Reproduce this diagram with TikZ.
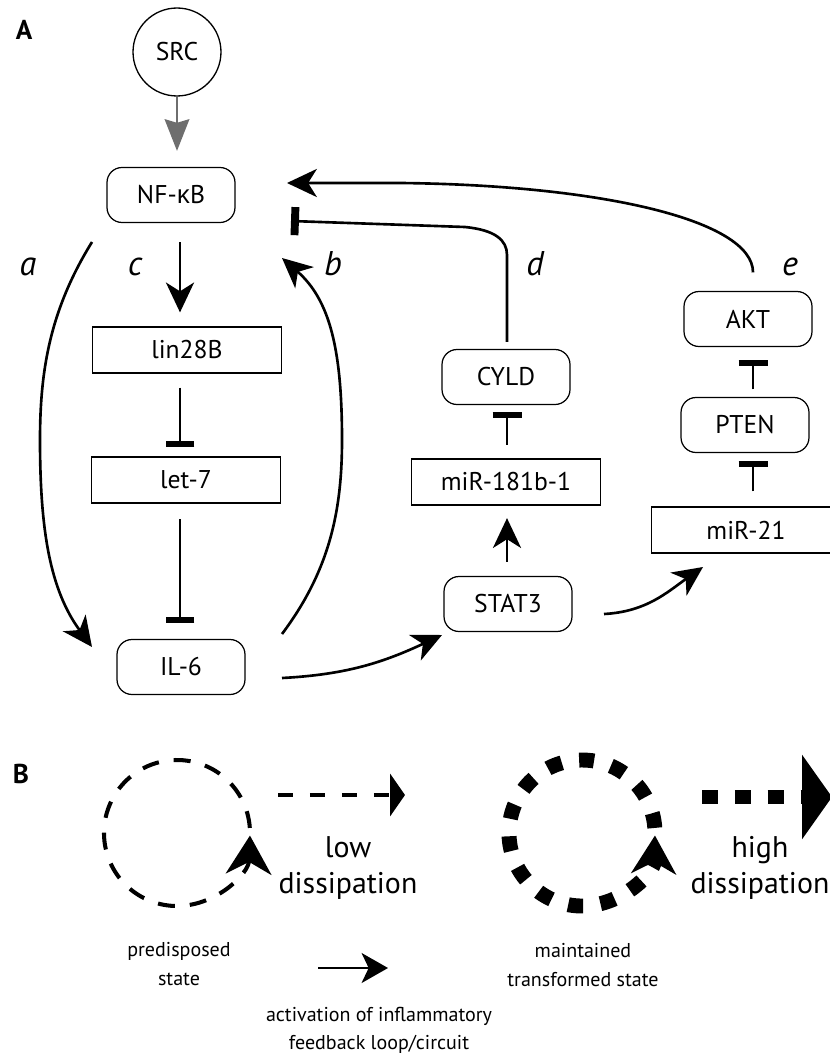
\documentclass[tikz,border=0pt]{standalone}
\usepackage{fontspec}
\setmainfont{PT Sans}
\newfontfamily\grk{Open Sans}
\usetikzlibrary{arrows.meta}
\definecolor{srcgray}{RGB}{110,110,110}

\begin{document}
\begin{tikzpicture}[x=0.02cm,y=0.02cm,
    gene/.style={draw,line width=.7pt,rounded corners=.3cm,minimum width=2.56cm,minimum height=1.1cm,inner sep=0pt,font=\fontsize{14.6}{17}\selectfont},
    rna/.style={draw,line width=.7pt,minimum width=3.78cm,minimum height=.92cm,inner sep=0pt,font=\fontsize{14.6}{17}\selectfont},
    act/.style={line width=1.5pt,-{Stealth[length=17pt,width=16pt,inset=5pt]}},
    inh/.style={line width=1.5pt,-{Bar[width=16.5pt,line width'=3.6pt]}},
    lbl/.style={anchor=base,font=\fontsize{19.5}{22}\selectfont\itshape},
    note/.style={align=center,font=\fontsize{11.4}{16}\selectfont},
    diss/.style={align=center,font=\fontsize{17}{20.5}\selectfont},
    panel/.style={font=\fontsize{15.5}{18}\selectfont\bfseries}]
  \useasboundingbox (0,0) rectangle (829,-1054);

  % panel A
  \node[panel] (pA) at (24,-30) {A};
  \node[draw,circle,line width=.75pt,minimum size=1.76cm,inner sep=0pt,font=\fontsize{14.6}{17}\selectfont] (src) at (177,-52) {SRC};
  \node[gene] (nfkb) at (171,-195) {NF-{\grk κ}B};
  \node[rna] (lin) at (187,-350) {lin28B};
  \node[rna] (let) at (186,-480) {let-7};
  \node[gene] (il) at (181,-667) {IL-6};
  \node[gene] (cyld) at (506,-377) {CYLD};
  \node[rna] (m181) at (506,-482) {miR-181b-1};
  \node[gene] (stat) at (508,-604) {STAT3};
  \node[gene] (akt) at (748,-319) {AKT};
  \node[gene] (pten) at (745,-425) {PTEN};
  \node[rna] (m21) at (746,-530) {miR-21};

  \coordinate (colL) at (180,0);
  \coordinate (colM) at (507,0);
  \coordinate (colR) at (753,0);

  \draw[line width=1.5pt,srcgray,-{Stealth[length=18pt,width=14pt,inset=2pt]},shorten >=.32cm] (src.south) -- (src.south |- nfkb.north);
  \draw[act,shorten <=.38cm,shorten >=.28cm] (nfkb.south -| colL) -- (lin.north -| colL);
  \draw[inh,shorten <=.28cm,shorten >=.19cm] (lin.south -| colL) -- (let.north -| colL);
  \draw[inh,shorten <=.31cm,shorten >=.32cm] (let.south -| colL) -- (il.north -| colL);

  % loops a and b
  \coordinate (aS) at (92,-242);
  \coordinate (aE) at (92,-647);
  \draw[act] (aS) .. controls (50,-310) and (40,-370) .. (40,-440) .. controls (40,-530) and (50,-590) .. (aE);
  \coordinate (bS) at (282,-634);
  \coordinate (bE) at (282,-258);
  \draw[act] (bS) .. controls (330,-570) and (342,-510) .. (342,-440) .. controls (342,-350) and (330,-300) .. (bE);

  % d and e back to NF-kB
  \coordinate (dE) at (291,-221);
  \draw[line width=1.5pt,-{Bar[width=16pt,line width'=4.5pt]},shorten <=.14cm] (cyld.north -| colM) -- (507,-255) .. controls (507,-240) and (495,-230) .. (465,-227) -- (dE);
  \coordinate (eE) at (287,-183);
  \draw[act,shorten <=.37cm] (akt.north -| colR) .. controls (753,-220) and (600,-185) .. (400,-183) -- (eE);

  \draw[inh,shorten <=.27cm,shorten >=.14cm] (m181.north -| colM) -- (cyld.south -| colM);
  \draw[act,shorten <=.28cm,shorten >=.25cm] (stat.north -| colM) -- (m181.south -| colM);
  \draw[inh,shorten <=.15cm,shorten >=.25cm] (pten.north -| colR) -- (akt.south -| colR);
  \draw[inh,shorten <=.3cm,shorten >=.15cm] (m21.north -| colR) -- (pten.south -| colR);

  \coordinate (iS) at (282,-678);
  \coordinate (iE) at (442,-635);
  \draw[act] (iS) to[out=3,in=205] (iE);
  \coordinate (sS) at (604,-614);
  \coordinate (sE) at (703,-567);
  \draw[act] (sS) to[out=3,in=215] (sE);

  \node[lbl] (la) at (28,-275) {a};
  \node[lbl] (lc) at (135,-275) {c};
  \node[lbl] (lb) at (333,-275) {b};
  \node[lbl] (ld) at (535,-275) {d};
  \node[lbl] (le) at (790,-275) {e};

  % panel B
  \node[panel] (pB) at (21,-774) {B};
  \draw[line width=2.3pt,dash pattern=on 9.7pt off 8.5pt,-{Stealth[length=22pt,width=26pt,inset=7pt]}] (177,-833) ++(4:73) arc[start angle=4,end angle=358,radius=73];
  \draw[line width=2.3pt,dash pattern=on 8.5pt off 9.7pt,-{Triangle[length=8.5pt,width=24pt]}] (278,-795) -- (405,-795);
  \node[diss] (low) at (348,-868) {low\\dissipation};
  \node[note] (pre) at (179,-964) {predisposed\\state};

  \draw[line width=8.5pt,dash pattern=on 8.5pt off 10pt,-{Stealth[length=22pt,width=26pt,inset=7pt,line width'=0pt]}] (582,-833) ++(4:73) arc[start angle=4,end angle=358,radius=73];
  \draw[line width=8.5pt,dash pattern=on 9pt off 9.7pt,-{Triangle[length=17pt,width=48pt,line width'=0pt]}] (702,-797) -- (832,-797);
  \node[diss] (high) at (760,-868) {high\\dissipation};
  \node[note] (main) at (583,-965) {maintained\\transformed state};

  \draw[line width=1.5pt,-{Stealth[length=15pt,width=17pt,inset=4pt]}] (318,-968) -- (388,-968);
  \node[note] (actv) at (379,-1030) {activation of inflammatory\\feedback loop/circuit};
\end{tikzpicture}
\end{document}
